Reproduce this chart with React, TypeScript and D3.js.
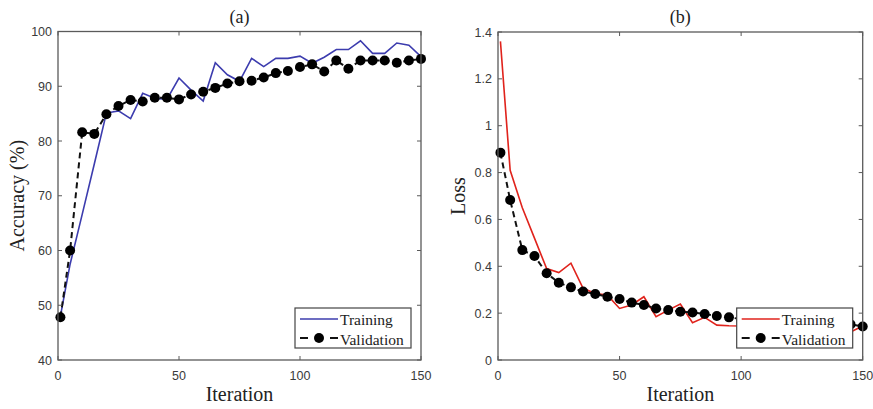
import React, { useEffect, useRef } from 'react';
import * as d3 from 'd3';

// iterations where the curves were sampled
const iterations = [1, 5, 10, 15, 20, 25, 30, 35, 40, 45, 50, 55, 60, 65, 70, 75, 80, 85, 90, 95, 100,
  105, 110, 115, 120, 125, 130, 135, 140, 145, 150];

const accTraining = [48, 57.5, 66.6, 75.8, 85.1, 85.5, 84.1, 88.7, 87.8, 87.6, 91.5, 89.3, 87.3, 94.3, 92.1,
  90.9, 95.1, 93.6, 95.1, 95.1, 95.5, 94.2, 95.3, 96.7, 96.7, 98.3, 96.0, 96.0, 97.9, 97.5, 95.4];
const accValidation = [47.8, 60, 81.6, 81.3, 84.9, 86.4, 87.5, 87.2, 87.9, 87.9, 87.6, 88.5, 89.0, 89.7, 90.5,
  90.9, 91.0, 91.6, 92.4, 92.8, 93.5, 94.0, 92.7, 94.7, 93.2, 94.7, 94.7, 94.7, 94.3, 94.7, 95.0];

const lossTraining = [1.36, 0.81, 0.65, 0.52, 0.39, 0.373, 0.413, 0.306, 0.284, 0.277, 0.22, 0.235, 0.27, 0.185,
  0.213, 0.239, 0.159, 0.182, 0.149, 0.146, 0.145, 0.14, 0.135, 0.13, 0.125, 0.12, 0.115, 0.11, 0.105, 0.12, 0.145];
const lossValidation = [0.885, 0.683, 0.469, 0.444, 0.37, 0.33, 0.31, 0.292, 0.282, 0.27, 0.26, 0.245, 0.235,
  0.22, 0.213, 0.206, 0.203, 0.196, 0.188, 0.182, 0.175, 0.17, 0.165, 0.162, 0.16, 0.157, 0.155, 0.153, 0.15,
  0.152, 0.143];

const xTicks = [0, 50, 100, 150];
const accTicks = [40, 50, 60, 70, 80, 90, 100];
const lossTicks = [0, 0.2, 0.4, 0.6, 0.8, 1, 1.2, 1.4];
const legendLabels = ['Training', 'Validation'];

const serif = '"Liberation Serif", "Times New Roman", serif';
const sans = '"Liberation Sans", Arial, sans-serif';

function drawPanel(svg, opts) {
  const { left, right, top, bottom, yDomain, yTicks, train, valid, trainColor, title, yLabel, yLabelX } = opts;
  const x = d3.scaleLinear().domain([0, 150]).range([left, right]);
  const y = d3.scaleLinear().domain(yDomain).range([bottom, top]);
  const axisColor = '#5a5a5a';
  const g = svg.append('g');

  // data lines
  const line = d3.line().x((d, i) => x(iterations[i])).y((d) => y(d));
  g.append('path').datum(train).attr('d', line).attr('fill', 'none')
    .attr('stroke', trainColor).attr('stroke-width', 1.6);
  g.append('path').datum(valid).attr('d', line).attr('fill', 'none')
    .attr('stroke', '#111').attr('stroke-width', 2).attr('stroke-dasharray', '6,4');
  g.selectAll('.dot').data(valid).enter().append('circle')
    .attr('cx', (d, i) => x(iterations[i])).attr('cy', (d) => y(d)).attr('r', 5).attr('fill', '#000');

  // box with inward ticks
  g.append('rect').attr('x', left).attr('y', top).attr('width', right - left).attr('height', bottom - top)
    .attr('fill', 'none').attr('stroke', axisColor).attr('stroke-width', 1.3);
  const tl = 4;
  xTicks.forEach((t) => {
    g.append('line').attr('x1', x(t)).attr('x2', x(t)).attr('y1', bottom).attr('y2', bottom - tl).attr('stroke', axisColor);
    g.append('line').attr('x1', x(t)).attr('x2', x(t)).attr('y1', top).attr('y2', top + tl).attr('stroke', axisColor);
    g.append('text').attr('x', x(t)).attr('y', bottom + 20).attr('text-anchor', 'middle')
      .attr('font-family', sans).attr('font-size', 12.5).attr('fill', '#3a3a3a').text(t);
  });
  yTicks.forEach((t) => {
    g.append('line').attr('x1', left).attr('x2', left + tl).attr('y1', y(t)).attr('y2', y(t)).attr('stroke', axisColor);
    g.append('line').attr('x1', right).attr('x2', right - tl).attr('y1', y(t)).attr('y2', y(t)).attr('stroke', axisColor);
    g.append('text').attr('x', left - 6).attr('y', y(t) + 4.5).attr('text-anchor', 'end')
      .attr('font-family', sans).attr('font-size', 12.5).attr('fill', '#3a3a3a').text(t);
  });

  // labels
  g.append('text').attr('x', (left + right) / 2).attr('y', 401).attr('text-anchor', 'middle')
    .attr('font-family', serif).attr('font-size', 20).attr('fill', '#222').text('Iteration');
  g.append('text').attr('transform', `translate(${yLabelX},${(top + bottom) / 2}) rotate(-90)`)
    .attr('text-anchor', 'middle').attr('font-family', serif).attr('font-size', 20).attr('fill', '#222').text(yLabel);
  g.append('text').attr('x', (left + right) / 2).attr('y', 23).attr('text-anchor', 'middle')
    .attr('font-family', serif).attr('font-size', 18).attr('fill', '#222').text(title);

  // legend
  const lx = right - 126;
  const ly = 308;
  const lg = g.append('g');
  lg.append('rect').attr('x', lx).attr('y', ly).attr('width', 116).attr('height', 40)
    .attr('fill', '#fff').attr('stroke', '#444').attr('stroke-width', 1.2);
  lg.append('line').attr('x1', lx + 5).attr('x2', lx + 43).attr('y1', ly + 11).attr('y2', ly + 11)
    .attr('stroke', trainColor).attr('stroke-width', 1.6);
  lg.append('line').attr('x1', lx + 5).attr('x2', lx + 13).attr('y1', ly + 30).attr('y2', ly + 30)
    .attr('stroke', '#111').attr('stroke-width', 2);
  lg.append('line').attr('x1', lx + 35).attr('x2', lx + 43).attr('y1', ly + 30).attr('y2', ly + 30)
    .attr('stroke', '#111').attr('stroke-width', 2);
  lg.append('circle').attr('cx', lx + 24).attr('cy', ly + 30).attr('r', 5).attr('fill', '#000');
  legendLabels.forEach((lab, i) => {
    lg.append('text').attr('x', lx + 45).attr('y', ly + 17 + i * 19.5)
      .attr('font-family', serif).attr('font-size', 15.5).attr('fill', '#222').text(lab);
  });
}

export default function App() {
  const ref = useRef(null);

  useEffect(() => {
    const svg = d3.select(ref.current);
    svg.selectAll('*').remove();
    drawPanel(svg, {
      left: 58, right: 421, top: 31.5, bottom: 360, yDomain: [40, 100], yTicks: accTicks,
      train: accTraining, valid: accValidation, trainColor: '#3c3cae', title: '(a)',
      yLabel: 'Accuracy (%)', yLabelX: 24,
    });
    drawPanel(svg, {
      left: 498, right: 862.7, top: 32, bottom: 360, yDomain: [0, 1.4], yTicks: lossTicks,
      train: lossTraining, valid: lossValidation, trainColor: '#e0231c', title: '(b)',
      yLabel: 'Loss', yLabelX: 465,
    });
  }, []);

  return (
    <svg ref={ref} width={873} height={409}
      style={{ position: 'absolute', left: 0, top: 0, background: '#fff' }} />
  );
}
